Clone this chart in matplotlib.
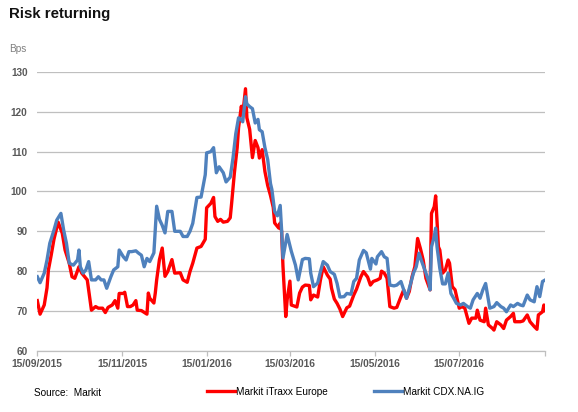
import matplotlib
matplotlib.use("Agg")
import matplotlib.pyplot as plt
import matplotlib.dates as mdates
import pandas as pd

# ---- data (days since 15/09/2015, values in bps) ----
start_date = "2015-09-15"

itraxx_day = [0, 2, 5, 7, 8, 10, 12, 15, 18, 20, 23, 25, 27, 30, 32, 35, 36, 38, 39, 42,
              44, 47, 49, 51, 54, 56, 58, 59, 62, 63, 65, 67, 69, 71, 72, 75, 79, 80, 81, 84,
              85, 86, 88, 90, 92, 94, 97, 99, 103, 105, 108, 110, 112, 115, 118, 121, 122, 125, 127, 128,
              130, 132, 134, 137, 139, 140, 142, 144, 145, 147, 148, 150, 151, 153, 155, 157, 159, 160, 162, 164,
              166, 168, 170, 171, 174, 175, 176, 177, 179, 180, 182, 183, 187, 189, 191, 193, 196, 197, 199, 202,
              204, 206, 209, 211, 212, 214, 216, 218, 220, 223, 225, 228, 230, 233, 235, 238, 240, 242, 245, 247,
              248, 250, 252, 254, 257, 259, 262, 264, 266, 268, 270, 272, 274, 276, 278, 280, 283, 284, 286, 287,
              289, 290, 292, 294, 296, 297, 299, 301, 304, 306, 308, 311, 313, 316, 317, 319, 322, 323, 325, 328,
              329, 331, 334, 336, 338, 341, 343, 344, 348, 350, 353, 355, 358, 360, 361, 364, 365, 366]
itraxx_val = [72.6, 69.2, 71.5, 75.8, 80.3, 84.0, 88.0, 92.3, 89.5, 85.3, 82.0, 78.6, 78.2, 81.1, 79.5, 78.2, 77.8, 72.8, 70.2, 71.1,
              70.7, 70.7, 69.6, 70.9, 71.5, 72.6, 70.7, 74.4, 74.4, 74.7, 71.1, 71.1, 71.5, 72.6, 70.2, 70.1, 69.2, 74.5, 73.2, 72.0,
              74.5, 77.8, 82.9, 85.8, 78.7, 79.9, 82.9, 79.5, 79.6, 77.8, 77.2, 79.9, 82.0, 85.8, 86.2, 88.0, 95.9, 97.0, 98.5, 93.7,
              92.5, 93.0, 92.3, 92.5, 93.4, 97.0, 104.7, 111.0, 116.0, 121.4, 119.2, 125.8, 118.5, 115.6, 108.5, 112.8, 111.0, 108.4, 110.5, 105.0,
              101.5, 99.0, 96.0, 92.1, 90.8, 92.1, 90.0, 81.2, 68.6, 72.8, 77.5, 71.5, 71.0, 74.5, 76.0, 76.5, 76.4, 72.8, 74.0, 73.5,
              77.8, 81.1, 79.0, 78.0, 75.7, 73.0, 71.9, 70.5, 68.6, 70.8, 71.2, 74.0, 75.5, 78.5, 79.9, 78.5, 76.5, 77.4, 77.8, 78.2,
              80.0, 79.5, 78.2, 71.1, 70.7, 70.9, 73.6, 75.3, 73.2, 74.9, 78.6, 81.1, 88.2, 85.7, 82.8, 78.2, 75.3, 94.5, 96.2, 98.9,
              86.1, 85.3, 79.5, 80.3, 82.8, 82.0, 76.1, 75.3, 70.7, 71.1, 70.7, 66.9, 68.2, 68.2, 70.2, 67.7, 67.3, 70.7, 66.5, 65.6,
              65.2, 67.3, 66.5, 65.6, 67.7, 68.6, 69.4, 67.3, 67.3, 67.5, 69.0, 67.3, 66.1, 65.4, 69.0, 69.8, 71.5, 70.1]

cdx_day = [0, 2, 5, 7, 9, 12, 14, 17, 19, 21, 23, 26, 29, 30, 31, 33, 35, 37, 39, 42,
           44, 46, 48, 50, 53, 55, 58, 59, 62, 64, 66, 68, 71, 73, 75, 77, 79, 81, 84, 86,
           88, 90, 92, 94, 97, 99, 103, 105, 108, 110, 112, 115, 118, 121, 122, 125, 127, 129, 131, 134,
           136, 139, 141, 143, 145, 147, 148, 150, 151, 153, 155, 157, 159, 160, 162, 164, 166, 168, 169, 171,
           173, 175, 176, 177, 180, 183, 186, 188, 191, 193, 196, 197, 199, 202, 204, 206, 209, 211, 214, 216,
           218, 221, 223, 226, 228, 230, 232, 235, 237, 240, 241, 244, 245, 248, 250, 252, 254, 257, 259, 262,
           264, 266, 269, 271, 273, 275, 277, 280, 282, 283, 284, 286, 287, 288, 290, 292, 294, 296, 298, 300,
           302, 305, 307, 310, 312, 314, 317, 319, 321, 323, 325, 326, 329, 331, 334, 336, 338, 341, 343, 346,
           348, 350, 353, 355, 358, 360, 362, 364, 366]
cdx_val = [78.6, 77.1, 79.5, 82.8, 87.0, 90.3, 92.8, 94.5, 90.3, 87.0, 82.0, 81.5, 82.8, 85.3, 81.1, 79.5, 80.3, 82.4, 77.8, 77.8,
           78.6, 77.8, 77.8, 75.7, 78.6, 80.3, 81.1, 85.3, 83.6, 82.8, 84.9, 84.9, 85.1, 84.5, 84.0, 81.1, 83.2, 82.4, 84.6, 96.3,
           93.0, 91.5, 89.6, 95.0, 95.0, 90.0, 90.0, 88.7, 88.7, 90.0, 92.0, 98.5, 98.6, 104.2, 109.7, 110.0, 111.0, 104.7, 106.2, 104.7,
           102.4, 103.6, 108.4, 114.5, 118.5, 118.0, 117.5, 123.8, 122.0, 121.3, 120.8, 117.2, 118.1, 115.5, 115.0, 111.0, 108.0, 102.0, 100.5, 95.0,
           93.9, 96.5, 90.4, 83.3, 89.2, 85.0, 81.5, 77.8, 82.9, 83.2, 83.1, 79.5, 76.1, 77.0, 79.9, 82.4, 81.5, 79.9, 79.2, 76.9,
           73.5, 73.6, 74.4, 74.2, 77.4, 78.2, 82.8, 85.2, 84.6, 80.5, 83.2, 81.8, 83.6, 84.9, 83.6, 83.2, 76.5, 76.3, 76.5, 77.4,
           75.3, 73.2, 76.9, 79.5, 81.1, 84.5, 82.4, 79.5, 77.4, 75.3, 86.1, 88.7, 90.8, 86.1, 80.7, 76.8, 76.8, 79.5, 74.4, 73.2,
           71.9, 71.5, 71.9, 71.1, 70.7, 72.8, 74.4, 73.2, 75.3, 76.9, 72.8, 70.7, 71.1, 72.1, 71.1, 70.7, 69.8, 71.5, 71.1, 71.9,
           71.5, 71.3, 74.0, 72.8, 72.3, 76.1, 73.6, 77.4, 77.8]

series_names = ["Markit iTraxx Europe", "Markit CDX.NA.IG"]
tick_dates = ["2015-09-15", "2015-11-15", "2016-01-15", "2016-03-15",
              "2016-05-15", "2016-07-15", "2016-09-15"]
tick_labels = ["15/09/2015", "15/11/2015", "15/01/2016", "15/03/2016",
               "15/05/2016", "15/07/2016", ""]
y_ticks = [60, 70, 80, 90, 100, 110, 120, 130]

# ---- figure ----
plt.rcParams['font.family'] = ['Liberation Sans', 'DejaVu Sans']
W, H = 578, 412
fig = plt.figure(figsize=(W / 100, H / 100), dpi=100)
ax = fig.add_axes([37.3 / W, 1 - 350.8 / H, (545.3 - 37.3) / W, (350.8 - 72) / H])

t0 = pd.Timestamp(start_date)
x_itraxx = t0 + pd.to_timedelta(itraxx_day, unit="D")
x_cdx = t0 + pd.to_timedelta(cdx_day, unit="D")

red = '#FF0000'
blue = '#4F81BD'
grey_txt = '#595959'
grid_c = '#BFBFBF'

l1, = ax.plot(x_itraxx, itraxx_val, color=red, lw=2.4, solid_joinstyle='round', label=series_names[0], zorder=3)
l2, = ax.plot(x_cdx, cdx_val, color=blue, lw=2.4, solid_joinstyle='round', label=series_names[1], zorder=4)

ax.set_ylim(60, 130)
ax.set_xlim(pd.Timestamp(tick_dates[0]), pd.Timestamp(tick_dates[-1]))
ax.set_yticks(y_ticks)
ax.set_xticks([pd.Timestamp(d) for d in tick_dates])
ax.set_xticklabels(tick_labels)

for s in ['top', 'right', 'left']:
    ax.spines[s].set_visible(False)
ax.spines['bottom'].set_color(grid_c)
ax.spines['bottom'].set_linewidth(0.9)
ax.yaxis.grid(True, color=grid_c, lw=0.9)
ax.set_axisbelow(True)

ax.tick_params(axis='y', length=0, pad=7, labelsize=7.2, labelcolor=grey_txt)
ax.tick_params(axis='x', length=3.5, width=0.9, color=grid_c, pad=2.5, labelsize=7.4, labelcolor=grey_txt)
for lab in ax.get_xticklabels() + ax.get_yticklabels():
    lab.set_fontweight('bold')

fig.text(9 / W, 1 - 18.3 / H, "Risk returning", fontsize=10.8, fontweight='bold',
         va='baseline', ha='left', color='#111111')
fig.text(9.3 / W, 1 - 49 / H, "Bps", fontsize=7.2, va='center', ha='left', color='#7F7F7F')
fig.text(34 / W, 1 - 393.3 / H, "Source:  Markit", fontsize=7.2, va='center', ha='left', color='black')

fig.legend(handles=[l1, l2], loc='center left', bbox_to_anchor=(206.7 / W, 1 - 391.7 / H),
           ncol=2, frameon=False, fontsize=7.2, handlelength=2.8, handletextpad=0.15,
           columnspacing=4.6, borderpad=0, borderaxespad=0)

fig.savefig("out.png", dpi=100)
